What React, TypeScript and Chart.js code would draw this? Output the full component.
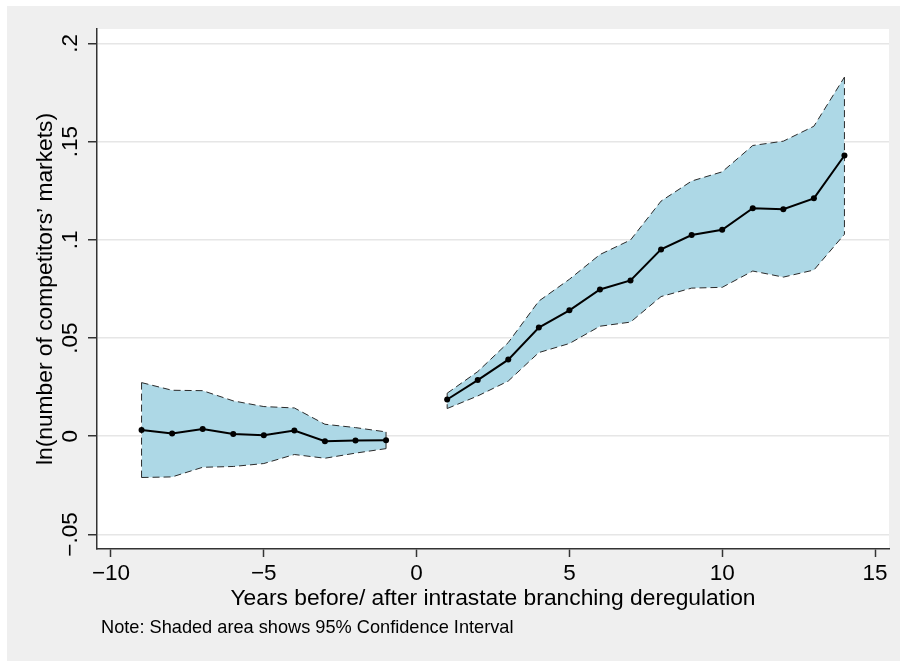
import React, { useEffect, useRef } from "react";
import { Chart, registerables } from "chart.js";

Chart.register(...registerables);

// Event-study estimates: years relative to intrastate branching deregulation
const preYears = [-9, -8, -7, -6, -5, -4, -3, -2, -1];
const preEstimate = [0.0032, 0.0014, 0.0037, 0.0012, 0.0005, 0.0029, -0.0025, -0.0022, -0.0021];
const preUpper = [0.0273, 0.0234, 0.0232, 0.018, 0.0151, 0.0144, 0.0061, 0.0044, 0.0022];
const preLower = [-0.021, -0.0207, -0.0158, -0.0154, -0.0139, -0.0093, -0.0112, -0.0086, -0.0063];

const postYears = [1, 2, 3, 4, 5, 6, 7, 8, 9, 10, 11, 12, 13, 14];
const postEstimate = [0.0187, 0.0286, 0.039, 0.0553, 0.0641, 0.0747, 0.0793, 0.0951, 0.1024, 0.1051, 0.1161, 0.1156, 0.1211, 0.1429];
const postUpper = [0.0219, 0.0329, 0.0477, 0.0688, 0.0799, 0.0925, 0.0999, 0.1197, 0.1299, 0.1346, 0.148, 0.1502, 0.1578, 0.1828];
const postLower = [0.0141, 0.0205, 0.0281, 0.0426, 0.0472, 0.056, 0.0581, 0.0711, 0.0754, 0.0758, 0.0841, 0.081, 0.0846, 0.1028];

const xTicks = [-10, -5, 0, 5, 10, 15];
const xTickLabels = ["\u221210", "\u22125", "0", "5", "10", "15"];
const yTicks = [-0.05, 0, 0.05, 0.1, 0.15, 0.2];
const yTickLabels = ["\u2212.05", "0", ".05", ".1", ".15", ".2"];

const xRange = [-10.458, 15.458];
const yRange = [-0.0574, 0.2073];

const xTitle = "Years before/ after intrastate branching deregulation";
const yTitle = "ln(number of competitors\u2019 markets)";
const noteText = "Note: Shaded area shows 95% Confidence Interval";

const FONT = '"Liberation Sans", Arial, Helvetica, sans-serif';
const BAND = "#add8e6";
const OUTLINE = "#2a2a2a";
const AXIS = "#333333";

const pts = (xs: number[], ys: number[]) => xs.map((x, i) => ({ x, y: ys[i] }));

const estimateStyle = {
  borderColor: "#000",
  borderWidth: 2,
  pointRadius: 3,
  pointBackgroundColor: "#000",
  pointBorderColor: "#000",
  pointBorderWidth: 0,
  fill: false,
  order: 0,
};

const outlineStyle = {
  borderColor: OUTLINE,
  borderWidth: 1,
  borderDash: [7, 4],
  pointRadius: 0,
  order: 1,
};

const frame = {
  id: "frame",
  beforeDraw(chart: any) {
    const { ctx, width, height, chartArea } = chart;
    ctx.save();
    ctx.fillStyle = "#efefef";
    ctx.fillRect(0, 0, width, height);
    ctx.fillStyle = "#ffffff";
    ctx.fillRect(chartArea.left, chartArea.top, chartArea.right - chartArea.left, chartArea.bottom - chartArea.top);
    ctx.restore();
  },
  afterDraw(chart: any) {
    const { ctx, chartArea, scales } = chart;
    const xs = scales.x;
    const ys = scales.y;
    ctx.save();
    ctx.fillStyle = "#000";

    // x tick labels
    ctx.font = `22.5px ${FONT}`;
    ctx.textAlign = "center";
    ctx.textBaseline = "alphabetic";
    xTicks.forEach((v, i) => {
      ctx.fillText(xTickLabels[i], xs.getPixelForValue(v), chartArea.bottom + 31);
    });

    // y tick labels, rotated
    yTicks.forEach((v, i) => {
      ctx.save();
      ctx.translate(chartArea.left - 20, ys.getPixelForValue(v));
      ctx.rotate(-Math.PI / 2);
      ctx.fillText(yTickLabels[i], 0, 0);
      ctx.restore();
    });

    // axis titles
    ctx.font = `22.8px ${FONT}`;
    ctx.fillText(xTitle, (chartArea.left + chartArea.right) / 2, chartArea.bottom + 56);
    ctx.save();
    ctx.translate(chartArea.left - 45, (chartArea.top + chartArea.bottom) / 2);
    ctx.rotate(-Math.PI / 2);
    ctx.fillText(yTitle, 0, 0);
    ctx.restore();

    // note
    ctx.font = `18.2px ${FONT}`;
    ctx.textAlign = "left";
    ctx.fillText(noteText, chartArea.left + 4, chartArea.bottom + 84);
    ctx.restore();
  },
};

export default function App() {
  const canvasRef = useRef<HTMLCanvasElement | null>(null);

  useEffect(() => {
    const canvas = canvasRef.current;
    if (!canvas) return;

    const chart = new Chart(canvas, {
      type: "line",
      data: {
        datasets: [
          { label: "pre estimate", data: pts(preYears, preEstimate), ...estimateStyle },
          { label: "post estimate", data: pts(postYears, postEstimate), ...estimateStyle },
          { label: "pre upper", data: pts(preYears, preUpper), ...outlineStyle, fill: 3, backgroundColor: BAND },
          { label: "pre lower", data: pts(preYears, preLower), ...outlineStyle, fill: false },
          { label: "post upper", data: pts(postYears, postUpper), ...outlineStyle, fill: 5, backgroundColor: BAND },
          { label: "post lower", data: pts(postYears, postLower), ...outlineStyle, fill: false },
          {
            label: "pre start",
            data: [{ x: preYears[0], y: preUpper[0] }, { x: preYears[0], y: preLower[0] }],
            ...outlineStyle,
            fill: false,
          },
          {
            label: "pre end",
            data: [
              { x: preYears[preYears.length - 1], y: preUpper[preUpper.length - 1] },
              { x: preYears[preYears.length - 1], y: preLower[preLower.length - 1] },
            ],
            ...outlineStyle,
            fill: false,
          },
          {
            label: "post start",
            data: [{ x: postYears[0], y: postUpper[0] }, { x: postYears[0], y: postLower[0] }],
            ...outlineStyle,
            fill: false,
          },
          {
            label: "post end",
            data: [
              { x: postYears[postYears.length - 1], y: postUpper[postUpper.length - 1] },
              { x: postYears[postYears.length - 1], y: postLower[postLower.length - 1] },
            ],
            ...outlineStyle,
            fill: false,
          },
        ] as any,
      },
      options: {
        animation: false,
        responsive: false,
        maintainAspectRatio: false,
        devicePixelRatio: 1,
        layout: { padding: { top: 23, right: 11, left: 0, bottom: 0 } },
        plugins: {
          legend: { display: false },
          tooltip: { enabled: false },
          filler: { drawTime: "beforeDatasetsDraw" } as any,
        },
        elements: { line: { tension: 0 } },
        scales: {
          x: {
            type: "linear",
            min: xRange[0],
            max: xRange[1],
            afterBuildTicks: (s: any) => {
              s.ticks = xTicks.map((value) => ({ value }));
            },
            afterFit: (s: any) => {
              s.height = 112;
            },
            ticks: { display: false },
            grid: {
              display: true,
              drawOnChartArea: false,
              drawTicks: true,
              tickLength: 8,
              tickColor: AXIS,
              tickWidth: 1.5,
            },
            border: { display: true, color: AXIS, width: 1.5 },
          },
          y: {
            type: "linear",
            min: yRange[0],
            max: yRange[1],
            afterBuildTicks: (s: any) => {
              s.ticks = yTicks.map((value) => ({ value }));
            },
            afterFit: (s: any) => {
              s.width = 90;
            },
            ticks: { display: false },
            grid: {
              display: true,
              color: "#e6e6e6",
              lineWidth: 1.5,
              drawTicks: true,
              tickLength: 9,
              tickColor: AXIS,
              tickWidth: 1.5,
            },
            border: { display: true, color: AXIS, width: 1.5 },
          },
        },
      } as any,
      plugins: [frame],
    });

    return () => chart.destroy();
  }, []);

  return (
    <div style={{ position: "absolute", left: 7, top: 6, width: 893, height: 655 }}>
      <canvas ref={canvasRef} width={893} height={655} style={{ display: "block" }} />
    </div>
  );
}
